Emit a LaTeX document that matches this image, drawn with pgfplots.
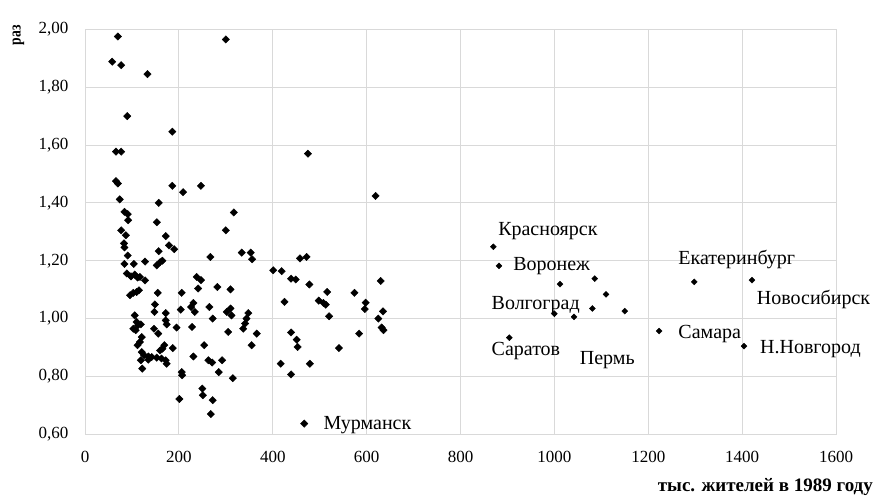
\documentclass[border=0pt]{standalone}
\usepackage{fontspec}
\setmainfont{Liberation Serif}
\newfontfamily\semicond{Liberation Serif}[FakeStretch=0.8]
\usepackage{pgfplots}
\pgfplotsset{compat=1.18}
\definecolor{gridgray}{HTML}{D9D9D9}

% smaller cities
\pgfplotstableread{
x y
70 1.975
300 1.965
58 1.888
77 1.876
133 1.845
90 1.700
186 1.646
66 1.577
77 1.577
475 1.570
619 1.424
66 1.475
70 1.467
74 1.412
157 1.400
186 1.459
209 1.437
247 1.459
317 1.367
84 1.369
91 1.361
92 1.340
153 1.333
300 1.305
77 1.305
87 1.288
172 1.285
83 1.260
84 1.246
179 1.253
190 1.240
157 1.233
91 1.218
267 1.213
334 1.228
353 1.228
356 1.205
84 1.189
104 1.189
128 1.197
153 1.184
160 1.195
165 1.200
458 1.208
472 1.213
401 1.167
419 1.164
89 1.156
98 1.146
106 1.152
112 1.142
117 1.144
128 1.132
238 1.144
247 1.133
241 1.104
439 1.138
449 1.135
478 1.118
516 1.092
574 1.089
630 1.130
96 1.081
103 1.089
110 1.092
115 1.098
155 1.089
206 1.089
282 1.109
310 1.101
149 1.049
148 1.023
172 1.019
204 1.031
231 1.054
226 1.040
234 1.023
265 1.040
272 1.000
302 1.023
310 1.035
312 1.011
348 1.019
344 1.000
341 0.983
337 0.965
366 0.948
355 0.908
425 1.058
498 1.062
508 1.054
513 1.048
520 1.008
598 1.055
596 1.033
635 1.025
625 1.000
632 0.969
636 0.960
106 1.011
110 0.988
113 0.977
119 0.980
103 0.965
108 0.960
172 0.994
174 0.980
195 0.969
147 0.965
156 0.948
228 0.971
305 0.954
121 0.936
117 0.919
112 0.908
169 0.908
165 0.896
160 0.890
187 0.898
254 0.908
121 0.884
126 0.873
135 0.869
142 0.867
153 0.865
163 0.862
172 0.856
119 0.856
135 0.858
174 0.844
231 0.869
263 0.856
271 0.848
292 0.856
122 0.827
206 0.815
207 0.804
285 0.815
315 0.794
250 0.758
251 0.735
201 0.722
272 0.718
268 0.670
439 0.952
451 0.927
453 0.902
541 0.898
584 0.948
417 0.844
479 0.844
439 0.807
467 0.637
}\small

% large cities
\pgfplotstableread{
x y
870 1.248
882 1.182
1012 1.119
1086 1.138
1110 1.084
1081 1.035
1150 1.026
1000 1.017
1042 1.006
1223 0.957
904 0.934
1298 1.127
1421 1.133
1404 0.905
}\large

\begin{document}
\begin{tikzpicture}
\begin{axis}[
  scale only axis,
  width=751pt, height=405pt,
  xmin=0, xmax=1600, ymin=0.6, ymax=2.0,
  xtick={0,200,...,1600},
  ytick={0.6,0.8,...,2.01},
  grid=major,
  major grid style={draw=gridgray, line width=1pt},
  axis line style={draw=gridgray, line width=1pt},
  major tick length=0pt,
  clip=false,
  /pgf/number format/assume math mode=true,
  xticklabel style={font=\fontsize{17}{19}\selectfont, yshift=-13pt},
  yticklabel style={font=\fontsize{17}{19}\selectfont, xshift=-13pt,
    /pgf/number format/.cd, fixed, fixed zerofill, precision=2, use comma},
  x tick label style={/pgf/number format/1000 sep={}},
]
\addplot[only marks, mark=square*, mark size=2.6pt, mark options={rotate=45, fill=black, draw=black}] table[x=x, y=y] {\small};
\addplot[only marks, mark=square*, mark size=2.1pt, mark options={rotate=45, fill=black, draw=black}] table[x=x, y=y] {\large};

\begin{scope}[every node/.style={anchor=west, inner sep=0pt, font=\fontsize{20}{22}\selectfont}]
\node at (axis cs:880,1.302) {Красноярск};
\node at (axis cs:912,1.181) {Воронеж};
\node at (axis cs:866,1.048) {Волгоград};
\node at (axis cs:866,0.887) {Саратов};
\node at (axis cs:1054,0.856) {Пермь};
\node at (axis cs:1264,1.205) {Екатеринбург};
\node at (axis cs:1431,1.065) {Новосибирск};
\node at (axis cs:1264,0.948) {Самара};
\node at (axis cs:1438,0.894) {Н.Новгород};
\node at (axis cs:508,0.631) {Мурманск};
\end{scope}
\end{axis}
\node[anchor=east, inner sep=0pt, font=\bfseries\fontsize{19}{21}\selectfont]
  at ([xshift=37pt, yshift=-53pt]current axis.south east) {тыс. жителей в 1989 году};
\node[rotate=90, anchor=east, inner sep=0pt, font=\semicond\bfseries\fontsize{17}{19}\selectfont]
  at ([xshift=-66.5pt, yshift=4pt]current axis.north west) {раз};
\pgfresetboundingbox
\path[use as bounding box] ([xshift=-85pt, yshift=-60.7pt]current axis.south west)
  rectangle ([xshift=38pt, yshift=29.3pt]current axis.north east);
\end{tikzpicture}
\end{document}
